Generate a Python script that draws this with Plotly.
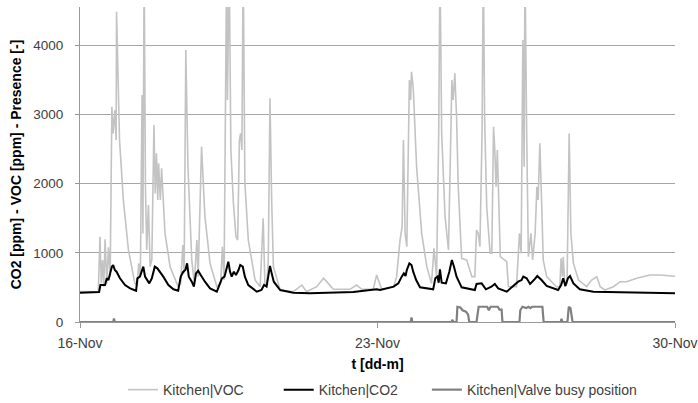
import pandas as pd
import plotly.graph_objects as go

start = pd.Timestamp("2013-11-16")

# Kitchen|VOC  (time in days after 16-Nov 00:00, value in ppm)
voc_t = [0.00, 0.43, 0.47, 0.50, 0.53, 0.56, 0.59, 0.63, 0.67, 0.71, 0.75, 0.78, 0.82, 0.85, 0.86, 0.89,
         0.93, 1.02, 1.14, 1.29, 1.35, 1.38, 1.42, 1.46, 1.48, 1.51, 1.54, 1.57, 1.61, 1.65, 1.69, 1.74,
         1.77, 1.80, 1.83, 1.85, 1.89, 1.92, 2.00, 2.12, 2.31, 2.37, 2.42, 2.45, 2.49, 2.54, 2.63, 2.69,
         2.75, 2.78, 2.86, 2.94, 3.06, 3.22, 3.31, 3.35, 3.39, 3.45, 3.47, 3.51, 3.55, 3.61, 3.67, 3.71,
         3.75, 3.78, 3.81, 3.84, 3.88, 3.96, 4.12, 4.24, 4.31, 4.35, 4.39, 4.43, 4.47, 4.51, 4.55, 4.71,
         5.02, 5.22, 5.33, 5.57, 5.73, 5.84, 5.96, 6.35, 6.51, 6.63, 6.90, 6.98, 7.10, 7.38, 7.45, 7.53,
         7.58, 7.61, 7.65, 7.69, 7.73, 7.75, 7.78, 7.80, 7.84, 7.92, 8.04, 8.16, 8.27, 8.33, 8.39, 8.44,
         8.47, 8.51, 8.59, 8.67, 8.71, 8.75, 8.78, 8.82, 8.86, 8.90, 8.98, 9.10, 9.22, 9.29, 9.33, 9.37,
         9.41, 9.46, 9.49, 9.52, 9.57, 9.65, 9.69, 9.73, 9.76, 9.79, 9.82, 9.86, 9.89, 10.04, 10.08, 10.27,
         10.34, 10.38, 10.42, 10.45, 10.47, 10.51, 10.55, 10.61, 10.65, 10.71, 10.75, 10.78, 10.82, 10.86,
         10.90, 10.98, 11.21, 11.29, 11.32, 11.35, 11.37, 11.41, 11.46, 11.51, 11.55, 11.61, 11.73, 11.92,
         12.04, 12.16, 12.24, 12.35, 12.55, 12.71, 12.86, 13.10, 13.41, 13.65, 13.96, 14.00]
voc_v = [440, 438, 1232, 558, 895, 510, 1194, 558, 1078, 655, 3110, 2724, 3061, 2628, 4481, 3446,
         2628, 1762, 1040, 558, 534, 847, 655, 3278, 1280, 5200, 1954, 1040, 1690, 799, 895, 2845,
         1858, 2436, 1762, 2291, 1762, 2219, 1280, 799, 510, 558, 1112, 703, 3928, 2243, 895, 558,
         1184, 655, 2532, 1521, 847, 510, 558, 1088, 606, 5200, 3206, 5200, 2484, 1714, 1232, 1184,
         2628, 2724, 2484, 5200, 2002, 1184, 606, 510, 1497, 558, 510, 895, 3230, 1762, 799, 462,
         438, 534, 438, 510, 631, 558, 472, 472, 534, 472, 472, 679, 472, 510, 655, 1184,
         1377, 2628, 1280, 1088, 3206, 3494, 3206, 3615, 3398, 2243, 1280, 799, 558, 1064, 655, 2724,
         5200, 2724, 1521, 1040, 2243, 3494, 3206, 3591, 2965, 1954, 919, 895, 655, 655, 1329, 1280,
         1088, 2724, 5200, 2965, 1665, 992, 992, 2820, 2484, 1954, 2484, 1762, 943, 871, 510, 510,
         1280, 992, 4072, 2243, 5200, 2724, 943, 1280, 895, 1280, 1954, 1762, 2580, 1762,
         895, 655, 510, 510, 919, 655, 943, 510, 558, 2724, 1280, 847, 606, 510,
         606, 655, 510, 462, 510, 582, 582, 631, 679, 679, 655, 660]

# Kitchen|CO2
co2_t = [0.00, 0.45, 0.48, 0.59, 0.63, 0.67, 0.71, 0.75, 0.78, 0.82, 0.86, 0.94, 1.06, 1.18, 1.32, 1.35,
         1.41, 1.45, 1.49, 1.53, 1.58, 1.63, 1.69, 1.73, 1.76, 1.82, 1.88, 1.96, 2.08, 2.20, 2.31, 2.37,
         2.43, 2.48, 2.52, 2.56, 2.63, 2.68, 2.73, 2.78, 2.84, 2.94, 3.06, 3.22, 3.34, 3.40, 3.44, 3.49,
         3.53, 3.57, 3.62, 3.67, 3.73, 3.77, 3.83, 3.88, 3.96, 4.16, 4.27, 4.33, 4.39, 4.44, 4.47, 4.51,
         4.56, 4.71, 5.02, 5.41, 5.80, 6.43, 6.98, 7.06, 7.38, 7.49, 7.57, 7.62, 7.66, 7.69, 7.75, 7.80,
         7.84, 7.91, 8.00, 8.31, 8.36, 8.41, 8.44, 8.47, 8.51, 8.61, 8.69, 8.75, 8.80, 8.86, 8.98, 9.29,
         9.33, 9.45, 9.55, 9.68, 9.76, 9.84, 10.04, 10.31, 10.39, 10.43, 10.51, 10.59, 10.68, 10.76, 10.86,
         10.98, 11.25, 11.32, 11.37, 11.42, 11.48, 11.53, 11.61, 11.76, 12.08, 12.55, 13.25, 14.00]
co2_v = [424, 433, 534, 534, 631, 606, 703, 799, 823, 751, 727, 631, 534, 486, 452, 631,
         655, 727, 799, 655, 606, 558, 631, 751, 799, 775, 727, 655, 534, 472, 452, 655,
         727, 751, 847, 655, 582, 510, 703, 741, 679, 582, 486, 438, 631, 655, 751, 871,
         727, 655, 727, 679, 751, 823, 799, 655, 534, 438, 462, 534, 510, 703, 809, 703,
         582, 462, 424, 414, 424, 433, 472, 462, 510, 558, 655, 703, 664, 751, 847, 823,
         727, 606, 501, 472, 631, 655, 568, 761, 568, 558, 727, 895, 799, 655, 501, 462,
         549, 558, 472, 510, 549, 486, 438, 582, 606, 655, 631, 549, 606, 664, 606,
         520, 462, 534, 631, 520, 631, 664, 558, 472, 438, 433, 424, 414]

# Kitchen|Valve busy position
valve_t = [0.00, 0.78, 0.80, 0.82, 7.78, 7.80, 7.82, 8.74, 8.76, 8.79, 8.86, 8.88, 8.95, 9.00, 9.08,
           9.13, 9.16, 9.33, 9.38, 9.58, 9.62, 9.66, 9.83, 9.87, 9.92, 9.94, 10.34, 10.36, 10.41,
           10.50, 10.55, 10.60, 10.64, 10.88, 10.91, 11.31, 11.33, 11.35, 11.47, 11.50, 11.54, 11.57,
           11.59, 14.00]
valve_v = [0, 0, 50, 0, 0, 65, 0, 0, 30, 0, 0, 220, 210, 170, 150,
           110, 0, 0, 220, 220, 170, 220, 220, 180, 180, 0, 0, 170, 220,
           200, 220, 200, 220, 220, 0, 0, 45, 0, 0, 220, 200, 100,
           0, 0]

tick_vals = [0, 7, 14]
y_ticks = [0, 1000, 2000, 3000, 4000]


def to_time(days):
    return start + pd.to_timedelta(days, unit="D")


FONT = "Arial, Liberation Sans, sans-serif"
TXT = "#404040"
LEG_Y = -0.216

fig = go.Figure()
fig.add_trace(go.Scatter(x=to_time(voc_t), y=voc_v, mode="lines", name="Kitchen|VOC",
                         line=dict(color="#c3c3c3", width=1.6), legend="legend"))
fig.add_trace(go.Scatter(x=to_time(co2_t), y=co2_v, mode="lines", name="Kitchen|CO2",
                         line=dict(color="#000000", width=2), legend="legend2"))
fig.add_trace(go.Scatter(x=to_time(valve_t), y=valve_v, mode="lines", name="Kitchen|Valve busy position",
                         line=dict(color="#808080", width=2.2), legend="legend3"))

leg_common = dict(orientation="h", xanchor="left", y=LEG_Y, yanchor="middle",
                  font=dict(family=FONT, size=14, color=TXT), bgcolor="rgba(0,0,0,0)")

fig.update_layout(
    width=698, height=403,
    margin=dict(l=80, r=23, t=7, b=81, autoexpand=False),
    paper_bgcolor="white", plot_bgcolor="white",
    font=dict(family=FONT, size=12, color=TXT),
    showlegend=True,
    legend=dict(x=0.0723, **leg_common),
    legend2=dict(x=0.334, **leg_common),
    legend3=dict(x=0.583, **leg_common),
)
fig.update_xaxes(
    type="date", automargin=False,
    range=[to_time(0), to_time(14)],
    tickvals=to_time(tick_vals), tickformat="%d-%b",
    ticks="outside", ticklen=5, tickcolor="#999999",
    showline=True, linecolor="#999999", linewidth=1,
    showgrid=False, zeroline=False, ticklabelstandoff=3,
    tickfont=dict(family=FONT, size=14, color=TXT),
    title=dict(text="<b>t [dd-m]</b>", font=dict(family=FONT, size=14, color="#000000"), standoff=9),
)
fig.update_yaxes(
    range=[0, 4550], automargin=False,
    tickvals=y_ticks,
    ticks="outside", ticklen=4, tickcolor="#999999",
    showline=True, linecolor="#999999", linewidth=1,
    showgrid=True, gridcolor="#a6a6a6", gridwidth=1,
    zeroline=False, ticklabelstandoff=9,
    tickfont=dict(family=FONT, size=13.5, color=TXT),
    title=dict(text="<b>CO2 [ppm] - VOC [ppm] - Presence [-]</b>",
               font=dict(family=FONT, size=14, color="#000000"), standoff=8),
)

fig.write_html("out.html", config={"displayModeBar": False},
               post_script="document.body.style.margin='0';")
